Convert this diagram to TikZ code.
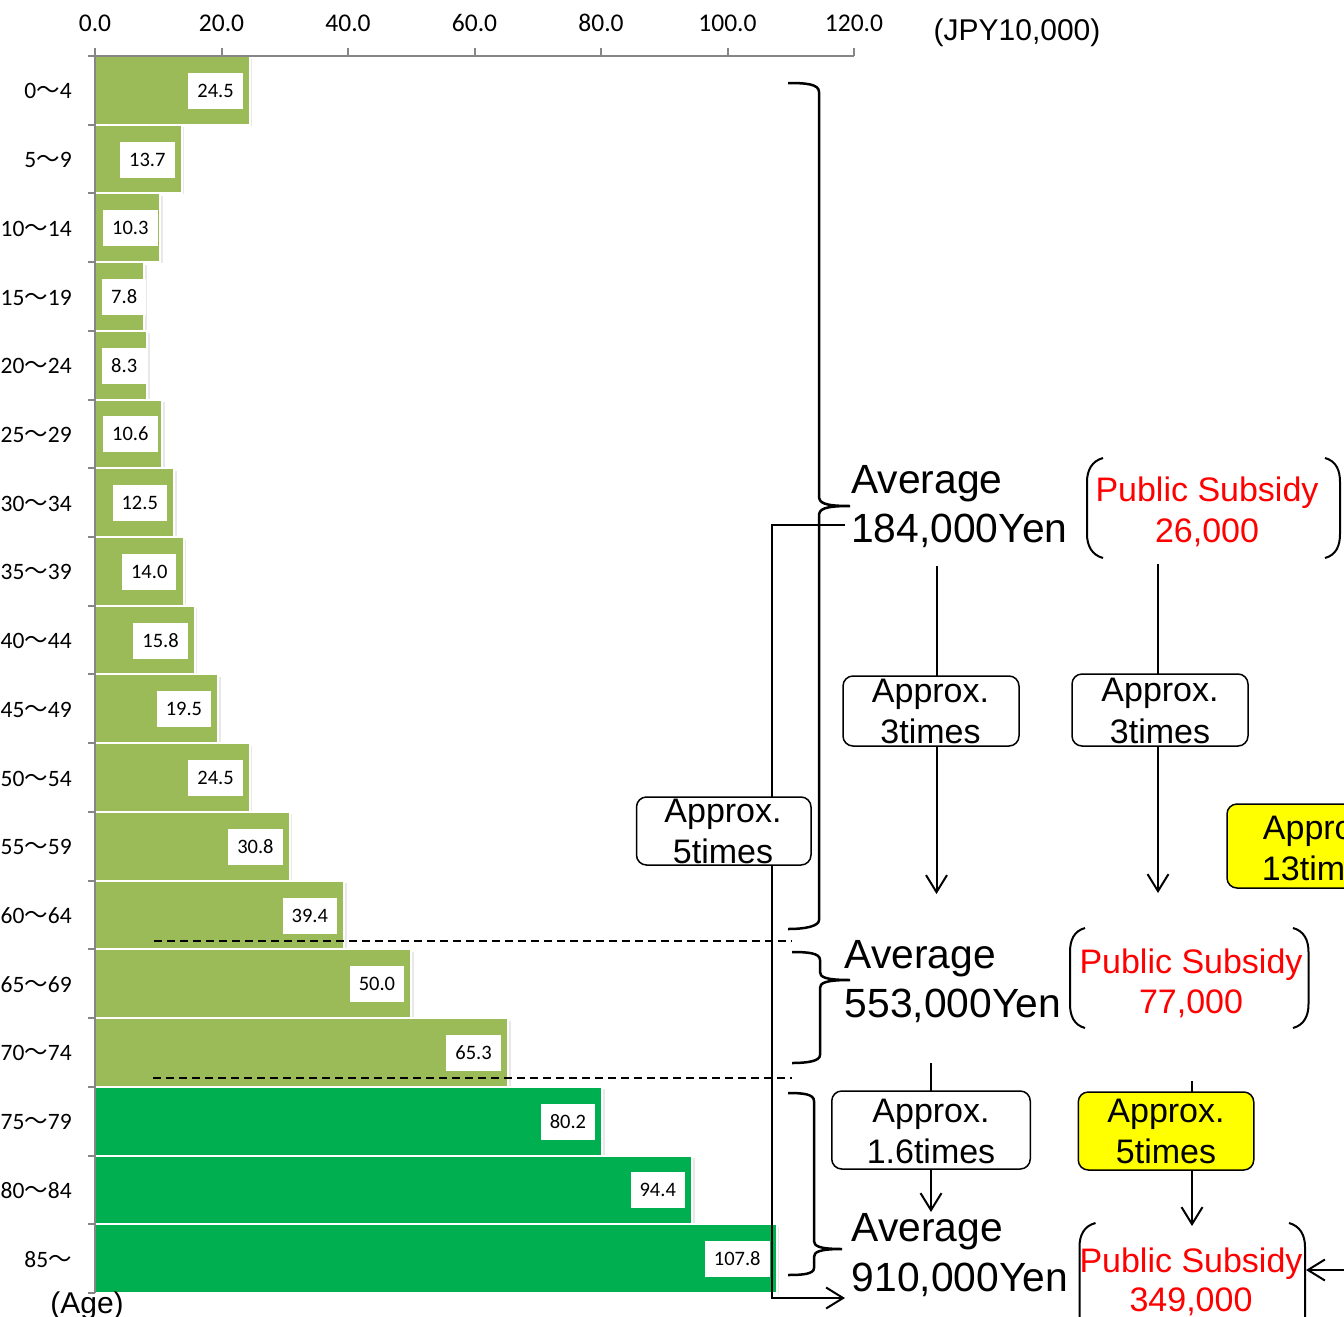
\documentclass[tikz,border=0pt]{standalone}
\usepackage{fontspec}
\setmainfont{Liberation Sans}
\newfontfamily\calfont{Carlito}
\newfontfamily\cjkfont{Noto Sans CJK JP}
\usetikzlibrary{arrows.meta}
\definecolor{lg}{HTML}{9BBB59}
\definecolor{dg}{HTML}{00B050}
\definecolor{axgray}{HTML}{868686}
\definecolor{ylw}{HTML}{FFFF00}
\newcommand\fwtilde{{\cjkfont ～}}
\begin{document}
\begin{tikzpicture}[x=1pt,y=-1pt,
  ticklab/.style={font=\calfont\fontsize{25.5}{30}\selectfont, anchor=base, inner sep=0},
  agelab/.style={font=\calfont\fontsize{23.5}{27}\selectfont, anchor=east, inner sep=0},
  vallab/.style={fill=white, font=\calfont\fontsize{20.5}{24}\selectfont, inner xsep=9pt, inner ysep=0pt, minimum height=36pt, text height=13pt, text depth=0pt},
  avgtxt/.style={font=\fontsize{40.8}{48}\selectfont, anchor=base west, inner sep=0},
  subtxt/.style={font=\fontsize{34}{41}\selectfont, text=red, anchor=base, inner sep=0},
  boxtxt/.style={font=\fontsize{34}{41}\selectfont, anchor=base, inner sep=0},
  rbox/.style={draw=black, line width=1.5pt, rounded corners=10pt, fill=white, inner sep=0pt},
  ybox/.style={rbox, fill=ylw},
  arr/.style={line width=2pt, -{Straight Barb[length=17pt,width=21pt,line width=2pt]}},
  brk/.style={line width=2.5pt},
  par/.style={line width=2pt},
  dsh/.style={line width=2pt, dash pattern=on 8pt off 5pt},
  axis/.style={axgray, line width=2pt}
]
\useasboundingbox (0,0) rectangle (1344,1317);
\clip (0,0) rectangle (1344,1317);

% bars
\foreach \i/\v/\lx/\anc/\c in {0/24.5/243/east/lg, 1/13.7/174.7/east/lg, 2/10.3/103/west/lg, 3/7.8/102/west/lg, 4/8.3/102/west/lg, 5/10.6/103/west/lg, 6/12.5/167.1/east/lg, 7/14.0/176.6/east/lg, 8/15.8/187.9/east/lg, 9/19.5/211.3/east/lg, 10/24.5/243/east/lg, 11/30.8/282.8/east/lg, 12/39.4/337.2/east/lg, 13/50.0/404.3/east/lg, 14/65.3/501/east/lg, 15/80.2/595.3/east/dg, 16/94.4/685.1/east/dg, 17/107.8/769.8/east/dg}{
  \pgfmathsetmacro\yt{56+\i*68.72}
  \pgfmathsetmacro\yb{56+(\i+1)*68.72}
  \pgfmathsetmacro\yc{56+(\i+0.5)*68.72}
  \pgfmathsetmacro\xe{95+\v*6.325}
  \fill[black!9] (97,\yt+2.5) rectangle (\xe+2.5,\yb+1);
  \filldraw[fill=\c, draw=white, line width=2pt] (95,\yt) rectangle (\xe,\yb);
  \node[vallab, anchor=\anc] (v\i) at (\lx,\yc+0.5) {\v};
}

% dashed lines
\coordinate (d1a) at (154,941); \coordinate (d1b) at (792,941);
\coordinate (d2a) at (153,1078); \coordinate (d2b) at (792,1078);
\draw[dsh] (d1a) -- (d1b);
\draw[dsh] (d2a) -- (d2b);

% axes
\draw[axis] (95,56) -- (854,56);
\draw[axis] (95,56) -- (95,1293);
\foreach \k in {0,...,6}{
  \draw[axis] (95+\k*126.5,48) -- (95+\k*126.5,56);
}
\foreach \k in {0,...,18}{
  \draw[axis] (88,56+\k*68.72) -- (95,56+\k*68.72);
}
\foreach \k/\t in {0/0.0,1/20.0,2/40.0,3/60.0,4/80.0,5/100.0,6/120.0}{
  \node[ticklab] (t\k) at (95+\k*126.5,31) {\t};
}
\node[font=\fontsize{30}{36}\selectfont, anchor=base, inner sep=0] (unit) at (1017,40) {(JPY10,000)};
\node[font=\fontsize{30}{36}\selectfont, anchor=base, inner sep=0] (agecap) at (87,1313) {(Age)};

% age labels
\foreach \i/\a in {0/0\fwtilde4, 1/5\fwtilde9, 2/10\fwtilde14, 3/15\fwtilde19, 4/20\fwtilde24, 5/25\fwtilde29, 6/30\fwtilde34, 7/35\fwtilde39, 8/40\fwtilde44, 9/45\fwtilde49, 10/50\fwtilde54, 11/55\fwtilde59, 12/60\fwtilde64, 13/65\fwtilde69, 14/70\fwtilde74, 15/75\fwtilde79, 16/80\fwtilde84, 17/85\fwtilde}{
  \pgfmathsetmacro\yc{56+(\i+0.5)*68.72}
  \node[agelab] (age\i) at (72,\yc+1) {\a};
}

% braces
\draw[brk] (788,83) .. controls (806,83) and (819,84) .. (819,92) -- (819,496)
  .. controls (819,503) and (824,506) .. (850,506)
  .. controls (824,506) and (819,509) .. (819,516) -- (819,920)
  .. controls (819,926) and (806,929) .. (788,929);
\draw[brk] (792,952) .. controls (808,952) and (820,953) .. (820,960) -- (820,972)
  .. controls (820,977) and (825,980) .. (850,980)
  .. controls (825,980) and (820,983) .. (820,988) -- (820,1055)
  .. controls (820,1061) and (808,1063) .. (792,1063);
\draw[brk] (788,1093) .. controls (803,1093) and (814,1094) .. (814,1101) -- (814,1241)
  .. controls (814,1246) and (819,1249) .. (842,1249)
  .. controls (819,1249) and (814,1252) .. (814,1257) -- (814,1268)
  .. controls (814,1274) and (803,1275) .. (788,1275);

% long connector (5 times)
\coordinate (lc1) at (845,525); \coordinate (lc2) at (772,525);
\coordinate (lc3) at (772,1298); \coordinate (lc4) at (845,1298);
\draw[arr] (lc1) -- (lc2) -- (lc3) -- (lc4);

% vertical arrows
\coordinate (a1s) at (936.5,566); \coordinate (a1e) at (936.5,894);
\coordinate (a2s) at (1158,564); \coordinate (a2e) at (1158,893);
\coordinate (a3s) at (931,1063); \coordinate (a3e) at (931,1212);
\coordinate (a4s) at (1192,1081); \coordinate (a4e) at (1192,1226);
\coordinate (a5s) at (1352,1270); \coordinate (a5e) at (1306,1270);
\draw[arr] (a1s) -- (a1e);
\draw[arr] (a2s) -- (a2e);
\draw[arr] (a3s) -- (a3e);
\draw[arr] (a4s) -- (a4e);
\draw[arr] (a5s) -- (a5e);

% boxes
\node[rbox, minimum width=174.5pt, minimum height=68pt] (bL) at (723.75,831) {};
\node[boxtxt] (bLa) at (723,822) {Approx.};
\node[boxtxt] (bLb) at (723,863) {5times};

\node[rbox, minimum width=176pt, minimum height=70pt] (b1) at (931,711) {};
\node[boxtxt] (b1a) at (930.5,702) {Approx.};
\node[boxtxt] (b1b) at (930.5,743) {3times};

\node[rbox, minimum width=176pt, minimum height=72pt] (b2) at (1160,710) {};
\node[boxtxt] (b2a) at (1160,701) {Approx.};
\node[boxtxt] (b2b) at (1160,743) {3times};

\node[ybox, minimum width=190pt, minimum height=84pt] (b13) at (1322,846) {};
\node[boxtxt] (b13a) at (1321.5,839) {Approx.};
\node[boxtxt] (b13b) at (1321.5,880) {13times};

\node[rbox, minimum width=198.5pt, minimum height=78pt] (b3) at (931,1130) {};
\node[boxtxt] (b3a) at (931,1122) {Approx.};
\node[boxtxt] (b3b) at (931,1163) {1.6times};

\node[ybox, minimum width=175.5pt, minimum height=78pt] (b4) at (1166,1131) {};
\node[boxtxt] (b4a) at (1166,1122) {Approx.};
\node[boxtxt] (b4b) at (1166,1163) {5times};

% averages
\node[avgtxt] (g1a) at (851,493) {Average};
\node[avgtxt] (g1b) at (851,542) {184,000Yen};
\node[avgtxt] (g2a) at (844.5,968) {Average};
\node[avgtxt] (g2b) at (844.5,1017) {553,000Yen};
\node[avgtxt] (g3a) at (851.5,1241) {Average};
\node[avgtxt] (g3b) at (851.5,1291) {910,000Yen};

% public subsidy
\node[subtxt] (s1a) at (1207,501) {Public Subsidy};
\node[subtxt] (s1b) at (1207,542) {26,000};
\node[subtxt] (s2a) at (1191,973) {Public Subsidy};
\node[subtxt] (s2b) at (1191,1013) {77,000};
\node[subtxt] (s3a) at (1191,1272) {Public Subsidy};
\node[subtxt] (s3b) at (1191,1311) {349,000};

% parentheses
\draw[par] (1103,458) .. controls (1092,461) and (1087,470) .. (1087,482) -- (1087,534) .. controls (1087,546) and (1092,555) .. (1103,558);
\draw[par] (1325,458) .. controls (1336,461) and (1340,470) .. (1340,482) -- (1340,534) .. controls (1340,546) and (1336,555) .. (1325,558);
\draw[par] (1085,928) .. controls (1074,931) and (1070,940) .. (1070,952) -- (1070,1004) .. controls (1070,1016) and (1074,1025) .. (1085,1028);
\draw[par] (1293,928) .. controls (1304,931) and (1308.5,940) .. (1308.5,952) -- (1308.5,1004) .. controls (1308.5,1016) and (1304,1025) .. (1293,1028);
\draw[par] (1095.5,1223) .. controls (1084,1226) and (1079.5,1235) .. (1079.5,1247) -- (1079.5,1330);
\draw[par] (1289,1223) .. controls (1300,1226) and (1305,1235) .. (1305,1247) -- (1305,1330);
\end{tikzpicture}
\end{document}
